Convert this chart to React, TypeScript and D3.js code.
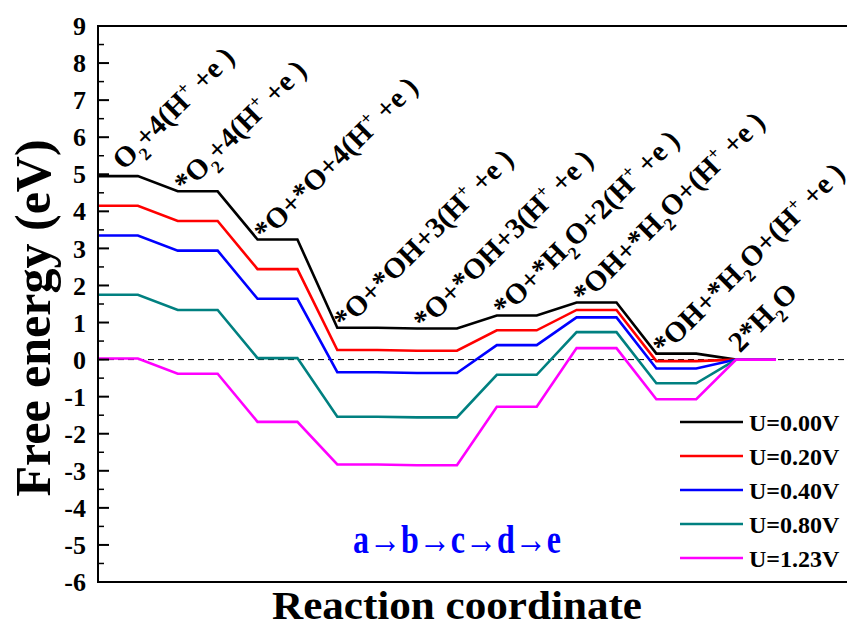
import React from "react";
import * as d3 from "d3";

// ---- data ----
const steps = [0, 1, 2, 3, 4, 5, 6, 7, 8];
const stepLabels = [
  "O_2+4(H^+ +e )",
  "*O_2+4(H^+ +e )",
  "*O+*O+4(H^+ +e )",
  "*O+*OH+3(H^+ +e )",
  "*O+*OH+3(H^+ +e )",
  "*O+*H_2O+2(H^+ +e )",
  "*OH+*H_2O+(H^+ +e )",
  "*OH+*H_2O+(H^+ +e )",
  "2*H_2O",
];
const seriesNames = ["U=0.00V", "U=0.20V", "U=0.40V", "U=0.80V", "U=1.23V"];
const u000 = [4.95, 4.54, 3.24, 0.86, 0.84, 1.19, 1.54, 0.16, 0];
const u020 = [4.15, 3.74, 2.44, 0.26, 0.24, 0.79, 1.34, -0.04, 0];
const u040 = [3.35, 2.94, 1.64, -0.34, -0.36, 0.39, 1.14, -0.24, 0];
const u080 = [1.75, 1.34, 0.04, -1.54, -1.56, -0.41, 0.74, -0.64, 0];
const u123 = [0.03, -0.38, -1.68, -2.83, -2.85, -1.27, 0.31, -1.07, 0];
const yTickValues = d3.range(-6, 10, 1);
const yMinorValues = d3.range(-5.5, 9, 1);
const pathwayText = ["a", "b", "c", "d", "e"];

// ---- styles ----
const seriesColors = ["#000000", "#ff0000", "#0000ff", "#008080", "#ff00ff"];
const FONT = "'Liberation Serif', 'Times New Roman', serif";

const W = 847;
const H = 630;
const left = 98;
const top = 26;
const bottom = 582;
const rightEdge = 900;

type Seg = { t: string; k: "n" | "sub" | "sup" };
function parseLabel(s: string): Seg[] {
  const out: Seg[] = [];
  let cur = "";
  for (let i = 0; i < s.length; i++) {
    const c = s[i];
    if (c === "_" || c === "^") {
      if (cur) out.push({ t: cur, k: "n" });
      cur = "";
      out.push({ t: s[i + 1], k: c === "_" ? "sub" : "sup" });
      i++;
    } else cur += c;
  }
  if (cur) out.push({ t: cur, k: "n" });
  return out;
}

function RichText({ segs, fs }: { segs: Seg[]; fs: number }) {
  let shift = 0;
  return (
    <>
      {segs.map((s, i) => {
        const target = s.k === "sub" ? 0.3 * fs : s.k === "sup" ? -0.38 * fs : 0;
        const dy = target - shift;
        shift = target;
        return (
          <tspan
            key={i}
            dy={dy}
            fontSize={s.k === "n" ? fs : fs * 0.62}
            style={{ whiteSpace: "pre" }}
          >
            {s.t}
          </tspan>
        );
      })}
    </>
  );
}

export default function App() {
  const x = d3.scaleLinear().domain([-0.25, 8.25]).range([left, 776]);
  const y = d3.scaleLinear().domain([-6, 9]).range([bottom, top]);
  const allSeries = [u000, u020, u040, u080, u123];

  const line = d3
    .line<[number, number]>()
    .x((d) => x(d[0]))
    .y((d) => y(d[1]));

  const pathFor = (vals: number[]) =>
    line(
      steps.flatMap((s) => [
        [s - 0.25, vals[s]] as [number, number],
        [s + 0.25, vals[s]] as [number, number],
      ])
    ) || "";

  const labelFs = 29;
  const labelOffsets = steps.map((s) =>
    s === 0 ? [26, -5] : s === 8 ? [4, -6] : [8, 3]
  );

  const legendX0 = 680;
  const legendX1 = 743;
  const legendY0 = 422;
  const legendDy = 34;

  return (
    <svg
      width={W}
      height={H}
      style={{ position: "absolute", left: 0, top: 0, background: "#fff" }}
      fontFamily={FONT}
      fontWeight="bold"
    >
      <rect x={0} y={0} width={W} height={H} fill="#fff" />

      {/* zero reference */}
      <line
        x1={left}
        x2={W}
        y1={y(0)}
        y2={y(0)}
        stroke="#000"
        strokeWidth={1}
        strokeDasharray="6,4"
      />

      {/* series */}
      {allSeries.map((vals, i) => (
        <path
          key={i}
          d={pathFor(vals)}
          fill="none"
          stroke={seriesColors[i]}
          strokeWidth={2.6}
          strokeLinejoin="miter"
        />
      ))}

      {/* frame */}
      <line x1={left} x2={left} y1={top} y2={bottom} stroke="#000" strokeWidth={2} />
      <line x1={left - 1} x2={rightEdge} y1={top} y2={top} stroke="#000" strokeWidth={2} />
      <line x1={left - 1} x2={rightEdge} y1={bottom} y2={bottom} stroke="#000" strokeWidth={2} />

      {/* y ticks */}
      {yTickValues.map((v) => (
        <g key={v}>
          <line x1={left} x2={left + 11} y1={y(v)} y2={y(v)} stroke="#000" strokeWidth={2} />
          <text
            x={86}
            y={y(v)}
            dy="0.35em"
            textAnchor="end"
            fontSize={26}
            fill="#000"
          >
            {v}
          </text>
        </g>
      ))}
      {yMinorValues.map((v) => (
        <line key={v} x1={left} x2={left + 6} y1={y(v)} y2={y(v)} stroke="#000" strokeWidth={1.5} />
      ))}

      {/* step labels */}
      {steps.map((s) => {
        const px = x(s - 0.25) + labelOffsets[s][0];
        const py = y(u000[s]) + labelOffsets[s][1];
        return (
          <text
            key={s}
            transform={`translate(${px},${py}) rotate(-45)`}
            fontSize={labelFs}
            fill="#000"
          >
            <RichText segs={parseLabel(stepLabels[s])} fs={labelFs} />
          </text>
        );
      })}

      {/* legend */}
      {seriesNames.map((n, i) => (
        <g key={n}>
          <line
            x1={legendX0}
            x2={legendX1}
            y1={legendY0 + i * legendDy}
            y2={legendY0 + i * legendDy}
            stroke={seriesColors[i]}
            strokeWidth={2.6}
          />
          <text
            x={legendX1 + 6}
            y={legendY0 + i * legendDy + 8.5}
            fontSize={24}
            fill="#000"
          >
            {n}
          </text>
        </g>
      ))}

      {/* pathway annotation */}
      <text
        x={353}
        y={553}
        fill="#0000ff"
        fontSize={40}
        textLength={208}
        lengthAdjust="spacingAndGlyphs"
      >
        {pathwayText.join("→")}
      </text>

      {/* axis titles */}
      <text
        transform={`translate(50,318) rotate(-90)`}
        textAnchor="middle"
        fontSize={50}
        fill="#000"
      >
        Free energy (eV)
      </text>
      <text
        x={457}
        y={619}
        textAnchor="middle"
        fontSize={40}
        textLength={370}
        lengthAdjust="spacingAndGlyphs"
        fill="#000"
      >
        Reaction coordinate
      </text>
    </svg>
  );
}
